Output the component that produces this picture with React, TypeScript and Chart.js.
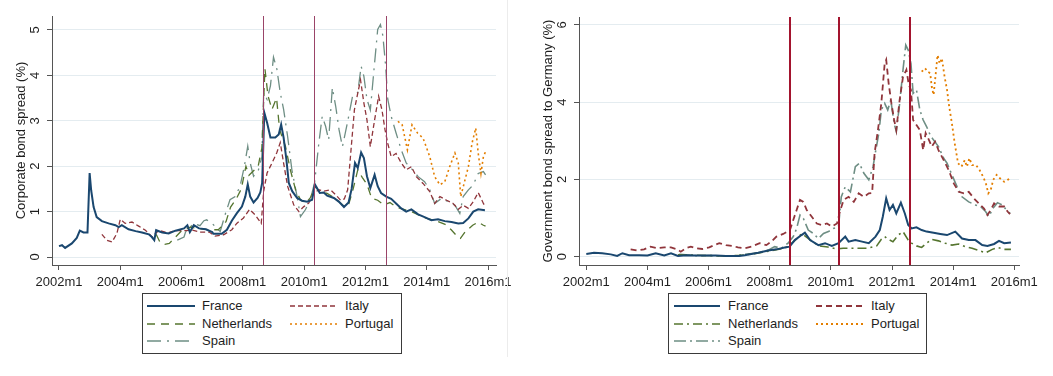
import React, { useEffect, useRef } from 'react';
import { Chart, registerables } from 'chart.js';

Chart.register(...registerables);
Chart.defaults.font.family = '"Liberation Sans", Arial, Helvetica, sans-serif';

type P = [number, number];

// ---------- shared labels ----------
const tickYears = [2002, 2004, 2006, 2008, 2010, 2012, 2014, 2016];
const countries = ['France', 'Italy', 'Netherlands', 'Portugal', 'Spain'];
const corpYTicks = [0, 1, 2, 3, 4, 5];
const govYTicks = [0, 2, 4, 6];
const corpTitle = 'Corporate bond spread (%)';
const govTitle = 'Government bond spread to Germany (%)';
const corpEvents = ['2008m9', '2010m5', '2012m9'];
const govEvents = ['2008m9', '2010m4', '2012m8'];

// ---------- left panel: corporate bond spreads (time in years, value in %) ----------
const corpFrance: P[] = [
  [2002.0, 0.24], [2002.1, 0.26], [2002.2, 0.2], [2002.42, 0.3], [2002.58, 0.42], [2002.68, 0.58], [2002.8, 0.54], [2002.93, 0.54],
  [2003.0, 1.85], [2003.05, 1.47], [2003.13, 1.1], [2003.23, 0.88], [2003.4, 0.79], [2003.62, 0.74], [2003.84, 0.7], [2003.95, 0.66],
  [2004.05, 0.7], [2004.27, 0.61], [2004.5, 0.57], [2004.71, 0.54], [2004.93, 0.5], [2005.03, 0.44], [2005.11, 0.37], [2005.17, 0.59],
  [2005.37, 0.54], [2005.58, 0.52], [2005.8, 0.58], [2006.08, 0.63], [2006.19, 0.7], [2006.27, 0.55], [2006.4, 0.7], [2006.57, 0.63],
  [2006.79, 0.61], [2007.0, 0.55], [2007.04, 0.51], [2007.31, 0.51], [2007.48, 0.6], [2007.64, 0.8], [2007.8, 0.96], [2007.97, 1.11],
  [2008.08, 1.33], [2008.16, 1.6], [2008.24, 1.33], [2008.35, 1.2], [2008.48, 1.3], [2008.57, 1.42], [2008.63, 1.63], [2008.7, 3.18],
  [2008.79, 2.96], [2008.9, 2.63], [2009.06, 2.63], [2009.17, 2.7], [2009.25, 2.92], [2009.33, 2.63], [2009.42, 2.15], [2009.5, 1.63],
  [2009.61, 1.45], [2009.77, 1.3], [2009.93, 1.24], [2010.1, 1.22], [2010.26, 1.26], [2010.35, 1.6], [2010.42, 1.52], [2010.51, 1.41],
  [2010.64, 1.42], [2010.75, 1.35], [2010.97, 1.3], [2011.13, 1.22], [2011.3, 1.1], [2011.45, 1.2], [2011.55, 1.5], [2011.66, 2.07],
  [2011.75, 1.96], [2011.86, 2.3], [2011.95, 2.18], [2012.05, 1.78], [2012.16, 1.52], [2012.3, 1.81], [2012.4, 1.56], [2012.51, 1.41],
  [2012.68, 1.33], [2012.84, 1.28], [2013.0, 1.18], [2013.17, 1.07], [2013.33, 1.0], [2013.5, 1.05], [2013.72, 0.94], [2013.93, 0.88],
  [2014.15, 0.81], [2014.37, 0.83], [2014.59, 0.79], [2014.81, 0.77], [2015.03, 0.74], [2015.19, 0.75], [2015.36, 0.85], [2015.52, 1.0],
  [2015.68, 1.05], [2015.9, 1.03],
];
const corpItaly: P[] = [
  [2003.4, 0.5], [2003.56, 0.37], [2003.73, 0.33], [2003.89, 0.52], [2004.0, 0.83], [2004.16, 0.74], [2004.38, 0.77], [2004.6, 0.68],
  [2004.82, 0.59], [2005.04, 0.44], [2005.26, 0.59], [2005.53, 0.53], [2005.8, 0.58], [2006.08, 0.58], [2006.35, 0.59], [2006.62, 0.55],
  [2006.9, 0.55], [2007.09, 0.46], [2007.37, 0.49], [2007.64, 0.6], [2007.8, 0.74], [2008.02, 0.86], [2008.22, 1.05], [2008.4, 0.93],
  [2008.6, 0.74], [2008.68, 1.45], [2008.79, 1.85], [2008.95, 2.07], [2009.11, 2.3], [2009.22, 2.52], [2009.33, 2.07], [2009.46, 1.56],
  [2009.66, 1.15], [2009.83, 1.0], [2009.99, 1.11], [2010.15, 1.19], [2010.32, 1.41], [2010.48, 1.48], [2010.65, 1.45], [2010.86, 1.48],
  [2011.03, 1.37], [2011.19, 1.25], [2011.31, 1.28], [2011.42, 1.48], [2011.53, 2.36], [2011.64, 3.24], [2011.75, 3.61], [2011.84, 3.9],
  [2011.95, 3.39], [2012.05, 3.02], [2012.16, 2.43], [2012.3, 3.02], [2012.43, 3.54], [2012.54, 3.24], [2012.64, 2.8], [2012.73, 2.5],
  [2012.84, 2.21], [2013.0, 2.28], [2013.17, 2.07], [2013.33, 1.92], [2013.5, 1.99], [2013.66, 1.77], [2013.88, 1.62], [2014.1, 1.44],
  [2014.26, 1.18], [2014.43, 1.33], [2014.65, 1.25], [2014.86, 1.18], [2015.03, 1.05], [2015.19, 1.14], [2015.36, 1.07], [2015.52, 1.22],
  [2015.68, 1.42], [2015.85, 1.18], [2015.92, 1.1],
];
const corpNetherlands: P[] = [
  [2005.17, 0.5], [2005.3, 0.32], [2005.45, 0.28], [2005.6, 0.3], [2005.75, 0.4], [2006.0, 0.58], [2006.3, 0.66], [2006.6, 0.62],
  [2006.9, 0.6], [2007.2, 0.6], [2007.45, 0.78], [2007.6, 1.1], [2007.8, 1.3], [2007.95, 1.5], [2008.1, 2.0], [2008.2, 1.8],
  [2008.35, 1.9], [2008.5, 2.0], [2008.62, 2.4], [2008.72, 4.15], [2008.82, 3.55], [2008.95, 3.25], [2009.1, 3.5], [2009.2, 2.8],
  [2009.39, 2.44], [2009.55, 1.92], [2009.72, 1.48], [2009.88, 1.26], [2010.05, 1.19], [2010.2, 1.3], [2010.35, 1.55], [2010.5, 1.45],
  [2010.75, 1.4], [2011.0, 1.3], [2011.25, 1.15], [2011.45, 1.15], [2011.6, 1.5], [2011.75, 1.92], [2011.9, 1.75], [2012.05, 1.6],
  [2012.2, 1.3], [2012.4, 1.25], [2012.6, 1.15], [2012.8, 1.2], [2013.0, 1.1], [2013.25, 1.05], [2013.5, 1.0], [2013.75, 0.92],
  [2014.0, 0.85], [2014.3, 0.8], [2014.6, 0.72], [2014.8, 0.6], [2015.0, 0.45], [2015.1, 0.41], [2015.25, 0.55], [2015.5, 0.7],
  [2015.68, 0.77], [2015.85, 0.7], [2015.92, 0.68],
];
const corpPortugal: P[] = [
  [2013.06, 2.99], [2013.2, 2.91], [2013.37, 2.36], [2013.52, 2.91], [2013.7, 2.73], [2013.88, 2.62], [2014.1, 2.21], [2014.26, 1.77],
  [2014.43, 1.59], [2014.59, 1.66], [2014.75, 1.99], [2014.92, 2.29], [2015.03, 2.07], [2015.11, 1.33], [2015.22, 1.62], [2015.36, 1.99],
  [2015.48, 2.51], [2015.6, 2.84], [2015.68, 2.29], [2015.77, 1.84], [2015.85, 2.21], [2015.92, 2.32],
];
const corpSpain: P[] = [
  [2005.86, 0.37], [2006.08, 0.44], [2006.13, 0.55], [2006.4, 0.74], [2006.6, 0.69], [2006.73, 0.8], [2006.82, 0.82], [2007.04, 0.71],
  [2007.26, 0.56], [2007.42, 0.93], [2007.58, 1.26], [2007.75, 1.33], [2007.91, 1.56], [2008.05, 2.0], [2008.16, 2.44], [2008.24, 2.07],
  [2008.35, 1.78], [2008.51, 1.92], [2008.62, 2.2], [2008.68, 3.62], [2008.79, 3.47], [2008.9, 3.77], [2009.0, 4.4], [2009.11, 4.14],
  [2009.22, 3.62], [2009.33, 3.25], [2009.46, 2.66], [2009.6, 1.92], [2009.77, 1.33], [2009.88, 0.89], [2010.04, 1.04], [2010.2, 1.26],
  [2010.34, 1.63], [2010.48, 2.51], [2010.59, 3.1], [2010.7, 2.88], [2010.8, 2.58], [2010.92, 3.73], [2011.03, 3.32], [2011.14, 2.8],
  [2011.25, 2.43], [2011.41, 2.95], [2011.58, 3.54], [2011.75, 3.62], [2011.86, 4.2], [2011.95, 3.98], [2012.05, 3.47], [2012.16, 3.24],
  [2012.3, 4.28], [2012.4, 5.01], [2012.49, 5.12], [2012.57, 4.87], [2012.66, 4.2], [2012.73, 3.47], [2012.84, 3.1], [2013.0, 2.73],
  [2013.17, 2.36], [2013.33, 2.07], [2013.5, 1.95], [2013.72, 1.77], [2013.93, 1.66], [2014.1, 1.48], [2014.26, 1.18], [2014.48, 1.29],
  [2014.7, 1.22], [2014.92, 1.14], [2015.08, 0.96], [2015.19, 1.33], [2015.36, 1.48], [2015.52, 1.59], [2015.68, 1.84], [2015.85, 1.88],
  [2015.92, 1.81],
];

// ---------- right panel: government bond spreads to Germany ----------
const govFrance: P[] = [
  [2002.0, 0.07], [2002.25, 0.1], [2002.52, 0.09], [2002.8, 0.06], [2003.01, 0.02], [2003.18, 0.09], [2003.4, 0.04], [2003.73, 0.04],
  [2004.0, 0.03], [2004.27, 0.09], [2004.55, 0.03], [2004.77, 0.09], [2005.0, 0.02], [2005.26, 0.04], [2005.58, 0.03], [2005.91, 0.03],
  [2006.24, 0.03], [2006.57, 0.02], [2007.0, 0.02], [2007.18, 0.04], [2007.62, 0.1], [2007.95, 0.16], [2008.22, 0.19], [2008.49, 0.24],
  [2008.65, 0.26], [2008.82, 0.43], [2009.04, 0.56], [2009.15, 0.62], [2009.32, 0.43], [2009.59, 0.3], [2009.81, 0.35], [2010.03, 0.28],
  [2010.25, 0.35], [2010.47, 0.52], [2010.58, 0.39], [2010.8, 0.43], [2011.02, 0.39], [2011.24, 0.35], [2011.46, 0.52], [2011.6, 0.69],
  [2011.7, 1.04], [2011.81, 1.51], [2011.92, 1.21], [2012.03, 1.34], [2012.14, 1.12], [2012.29, 1.4], [2012.42, 1.12], [2012.53, 0.82],
  [2012.64, 0.73], [2012.8, 0.76], [2012.97, 0.69], [2013.13, 0.65], [2013.36, 0.62], [2013.58, 0.59], [2013.8, 0.56], [2014.07, 0.65],
  [2014.29, 0.47], [2014.51, 0.43], [2014.73, 0.43], [2014.95, 0.3], [2015.12, 0.28], [2015.34, 0.33], [2015.5, 0.41], [2015.67, 0.35],
  [2015.89, 0.37],
];
const govItaly: P[] = [
  [2003.45, 0.19], [2003.67, 0.16], [2003.89, 0.19], [2004.1, 0.26], [2004.32, 0.22], [2004.55, 0.24], [2004.77, 0.24], [2004.98, 0.19],
  [2005.09, 0.13], [2005.26, 0.22], [2005.42, 0.26], [2005.58, 0.22], [2005.8, 0.2], [2006.02, 0.24], [2006.19, 0.3], [2006.35, 0.35],
  [2006.57, 0.3], [2006.79, 0.28], [2006.96, 0.24], [2007.18, 0.22], [2007.4, 0.26], [2007.67, 0.35], [2007.89, 0.3], [2008.05, 0.39],
  [2008.22, 0.52], [2008.44, 0.59], [2008.66, 0.69], [2008.77, 0.95], [2008.88, 1.21], [2008.99, 1.47], [2009.1, 1.42], [2009.21, 1.21],
  [2009.37, 1.04], [2009.54, 0.86], [2009.7, 0.82], [2009.87, 0.86], [2010.03, 0.78], [2010.2, 0.86], [2010.31, 1.21], [2010.42, 1.47],
  [2010.58, 1.55], [2010.75, 1.42], [2010.91, 1.64], [2011.08, 1.55], [2011.24, 1.64], [2011.35, 1.65], [2011.43, 2.68], [2011.54, 3.28],
  [2011.65, 3.97], [2011.76, 5.0], [2011.81, 5.1], [2011.89, 4.49], [2011.98, 3.97], [2012.07, 3.54], [2012.14, 3.28], [2012.25, 4.06],
  [2012.36, 4.66], [2012.47, 4.84], [2012.55, 4.45], [2012.62, 4.32], [2012.69, 3.54], [2012.8, 3.41], [2012.91, 3.28], [2013.02, 2.76],
  [2013.1, 3.2], [2013.21, 3.02], [2013.3, 2.85], [2013.41, 2.98], [2013.52, 2.76], [2013.69, 2.5], [2013.85, 2.25], [2014.02, 1.9],
  [2014.18, 1.68], [2014.35, 1.64], [2014.51, 1.68], [2014.68, 1.51], [2014.84, 1.38], [2015.01, 1.25], [2015.12, 1.08], [2015.23, 1.21],
  [2015.34, 1.38], [2015.5, 1.3], [2015.67, 1.3], [2015.78, 1.17], [2015.86, 1.1],
];
const govNetherlands: P[] = [
  [2005.0, 0.05], [2005.5, 0.04], [2006.0, 0.03], [2006.5, 0.02], [2007.0, 0.03], [2007.5, 0.08], [2008.0, 0.15], [2008.5, 0.22],
  [2008.8, 0.4], [2009.05, 0.6], [2009.3, 0.45], [2009.6, 0.28], [2009.9, 0.25], [2010.2, 0.2], [2010.4, 0.22], [2010.8, 0.22],
  [2011.2, 0.22], [2011.5, 0.28], [2011.65, 0.45], [2011.76, 0.52], [2011.87, 0.45], [2012.03, 0.39], [2012.2, 0.56], [2012.36, 0.65],
  [2012.53, 0.43], [2012.64, 0.35], [2012.8, 0.28], [2012.97, 0.24], [2013.13, 0.35], [2013.3, 0.45], [2013.52, 0.41], [2013.74, 0.35],
  [2013.96, 0.3], [2014.18, 0.33], [2014.4, 0.26], [2014.62, 0.22], [2014.84, 0.16], [2015.06, 0.1], [2015.28, 0.19], [2015.45, 0.24],
  [2015.67, 0.19], [2015.89, 0.19],
];
const govPortugal: P[] = [
  [2012.97, 4.79], [2013.08, 4.88], [2013.17, 4.79], [2013.25, 4.75], [2013.3, 4.4], [2013.36, 4.19], [2013.42, 4.66], [2013.49, 5.22],
  [2013.56, 5.0], [2013.63, 5.14], [2013.72, 4.66], [2013.8, 4.32], [2013.87, 3.89], [2013.96, 3.45], [2014.05, 2.94], [2014.16, 2.42],
  [2014.27, 2.33], [2014.38, 2.5], [2014.45, 2.33], [2014.53, 2.55], [2014.62, 2.37], [2014.75, 2.37], [2014.86, 2.25], [2014.98, 2.07],
  [2015.07, 1.9], [2015.15, 1.64], [2015.23, 1.73], [2015.31, 1.99], [2015.42, 2.12], [2015.53, 2.03], [2015.67, 1.94], [2015.78, 1.99],
  [2015.87, 2.03],
];
const govSpain: P[] = [
  [2005.04, 0.06], [2005.37, 0.04], [2005.7, 0.02], [2006.02, 0.03], [2006.35, 0.02], [2006.79, 0.02], [2007.0, 0.04], [2007.18, 0.06],
  [2007.62, 0.1], [2007.95, 0.17], [2008.16, 0.26], [2008.38, 0.22], [2008.6, 0.35], [2008.77, 0.52], [2008.88, 0.73], [2008.99, 1.08],
  [2009.1, 0.99], [2009.26, 0.69], [2009.43, 0.6], [2009.59, 0.47], [2009.76, 0.6], [2009.92, 0.65], [2010.08, 0.73], [2010.25, 0.78],
  [2010.34, 1.55], [2010.47, 1.81], [2010.64, 1.68], [2010.8, 2.33], [2010.93, 2.42], [2011.08, 2.16], [2011.24, 1.99], [2011.38, 2.33],
  [2011.47, 2.76], [2011.57, 3.2], [2011.65, 3.8], [2011.76, 3.97], [2011.86, 3.8], [2011.96, 4.06], [2012.07, 3.45], [2012.14, 3.24],
  [2012.25, 3.97], [2012.36, 4.84], [2012.45, 5.48], [2012.53, 5.35], [2012.62, 5.0], [2012.69, 4.23], [2012.8, 4.32], [2012.91, 3.8],
  [2013.02, 3.54], [2013.13, 3.37], [2013.25, 3.15], [2013.36, 3.02], [2013.52, 2.85], [2013.69, 2.55], [2013.8, 2.42], [2013.96, 2.12],
  [2014.13, 1.81], [2014.29, 1.55], [2014.51, 1.42], [2014.73, 1.34], [2014.9, 1.3], [2015.06, 1.17], [2015.17, 1.04], [2015.3, 1.25],
  [2015.45, 1.4], [2015.61, 1.34], [2015.78, 1.17], [2015.87, 1.12],
];

// ---------- styles ----------
const FONT = '"Liberation Sans", Arial, Helvetica, sans-serif';
const colors = ['#1a476f', '#90353b', '#55752f', '#e37e00', '#6e8e84'];
const corpDash: number[][] = [[], [5, 3], [8, 6], [2, 3], [14, 6, 2, 6]];
const govDash: number[][] = [[], [6, 4], [9, 4, 2, 4], [2, 3], [12, 4, 2, 4]];
const corpWidths = [2, 1.3, 1.3, 1.6, 1.3];
const govWidths = [2, 1.8, 1.6, 1.8, 1.6];

const m2t = (s: string) => {
  const [y, m] = s.split('m').map(Number);
  return y + (m - 1) / 12;
};

type PanelCfg = {
  series: P[][];
  dashes: number[][];
  widths: number[];
  yTicks: number[];
  yMin: number;
  yMax: number;
  xMin: number;
  xMax: number;
  padTop: number;
  padRight: number;
  yWidth: number;
  title: string;
  events: string[];
  eventColor: string;
  eventWidth: number;
  width: number;
  height: number;
};

function Panel({ cfg }: { cfg: PanelCfg }) {
  const ref = useRef<HTMLCanvasElement | null>(null);
  useEffect(() => {
    if (!ref.current) return;
    const eventPlugin = {
      id: 'eventLines',
      afterDatasetsDraw(chart: any) {
        const { ctx, chartArea, scales } = chart;
        ctx.save();
        ctx.strokeStyle = cfg.eventColor;
        ctx.lineWidth = cfg.eventWidth;
        for (const e of cfg.events) {
          const x = Math.round(scales.x.getPixelForValue(m2t(e))) + (cfg.eventWidth % 2 ? 0.5 : 0);
          ctx.beginPath();
          ctx.moveTo(x, chartArea.top);
          ctx.lineTo(x, chartArea.bottom);
          ctx.stroke();
        }
        ctx.restore();
      },
    };
    const chart = new Chart(ref.current, {
      type: 'line',
      data: {
        datasets: cfg.series.map((s, i) => ({
          label: countries[i],
          data: s.map(([x, y]) => ({ x, y })),
          borderColor: colors[i],
          backgroundColor: colors[i],
          borderWidth: cfg.widths[i],
          borderDash: cfg.dashes[i],
          pointRadius: 0,
          fill: false,
          tension: 0,
        })),
      },
      options: {
        animation: false,
        responsive: false,
        maintainAspectRatio: false,
        layout: { padding: { top: cfg.padTop, right: cfg.padRight, left: 0, bottom: 0 } },
        plugins: { legend: { display: false }, tooltip: { enabled: false } },
        scales: {
          x: {
            type: 'linear',
            min: cfg.xMin,
            max: cfg.xMax,
            afterBuildTicks: (s: any) => {
              s.ticks = tickYears.map((v) => ({ value: v }));
            },
            afterFit: (s: any) => {
              s.height = 27;
            },
            ticks: {
              autoSkip: false,
              maxRotation: 0,
              minRotation: 0,
              padding: 5,
              color: '#1e1e1e',
              font: { size: 13, family: FONT },
              callback: (v: any) => `${v}m1`,
            },
            grid: { drawOnChartArea: false, drawTicks: true, tickLength: 5, tickColor: '#555' },
            border: { display: true, color: '#555', width: 1 },
          },
          y: {
            type: 'linear',
            min: cfg.yMin,
            max: cfg.yMax,
            afterBuildTicks: (s: any) => {
              s.ticks = cfg.yTicks.map((v) => ({ value: v }));
            },
            afterFit: (s: any) => {
              s.width = cfg.yWidth;
            },
            ticks: {
              minRotation: 90,
              maxRotation: 90,
              crossAlign: 'center',
              padding: 8,
              color: '#1e1e1e',
              font: { size: 13, family: FONT },
            },
            grid: { color: '#e4ecf0', lineWidth: 1, drawTicks: true, tickLength: 5, tickColor: '#555' },
            border: { display: true, color: '#555', width: 1 },
            title: {
              display: true,
              text: cfg.title,
              color: '#1e1e1e',
              font: { size: 13, family: FONT },
              padding: { top: 14, bottom: 0 },
            },
          },
        },
      } as any,
      plugins: [eventPlugin],
    });
    return () => chart.destroy();
  }, [cfg]);
  return <canvas ref={ref} width={cfg.width} height={cfg.height} style={{ width: cfg.width, height: cfg.height, display: 'block' }} />;
}

type LegendCfg = {
  left: number;
  width: number;
  col1: [number, number, number];
  col2: [number, number, number];
  dashes: number[][];
  widths: number[];
};

function Legend({ cfg }: { cfg: LegendCfg }) {
  const rows = [306, 323.5, 341];
  const items = countries.map((name, i) => {
    const col = i % 2 === 0 ? cfg.col1 : cfg.col2;
    const row = rows[Math.floor(i / 2)];
    return { name, i, x1: col[0], x2: col[1], tx: col[2], y: row };
  });
  return (
    <>
      <div
        style={{
          position: 'absolute',
          left: cfg.left,
          top: 293,
          width: cfg.width,
          height: 61,
          border: '1px solid #3a3a3a',
          boxSizing: 'border-box',
        }}
      />
      {items.map((it) => (
        <React.Fragment key={it.name}>
          <svg
            style={{ position: 'absolute', left: it.x1, top: it.y - 3, overflow: 'visible' }}
            width={it.x2 - it.x1}
            height={6}
          >
            <line
              x1={0}
              y1={3}
              x2={it.x2 - it.x1}
              y2={3}
              stroke={colors[it.i]}
              strokeWidth={cfg.widths[it.i]}
              strokeDasharray={cfg.dashes[it.i].length ? cfg.dashes[it.i].join(' ') : undefined}
            />
          </svg>
          <div
            style={{
              position: 'absolute',
              left: it.tx,
              top: it.y - 8,
              height: 16,
              lineHeight: '16px',
              fontSize: 13,
              color: '#1e1e1e',
              whiteSpace: 'nowrap',
            }}
          >
            {it.name}
          </div>
        </React.Fragment>
      ))}
    </>
  );
}

const corpCfg: PanelCfg = {
  series: [corpFrance, corpItaly, corpNetherlands, corpPortugal, corpSpain],
  dashes: corpDash,
  widths: corpWidths,
  yTicks: corpYTicks,
  yMin: -0.176,
  yMax: 5.308,
  xMin: 2001.772,
  xMax: 2016.261,
  padTop: 16,
  padRight: 31,
  yWidth: 52,
  title: corpTitle,
  events: corpEvents,
  eventColor: '#9a4468',
  eventWidth: 1,
  width: 527,
  height: 292,
};

const govCfg: PanelCfg = {
  series: [govFrance, govItaly, govNetherlands, govPortugal, govSpain],
  dashes: govDash,
  widths: govWidths,
  yTicks: govYTicks,
  yMin: -0.215,
  yMax: 6.207,
  xMin: 2001.761,
  xMax: 2016.154,
  padTop: 17,
  padRight: 34,
  yWidth: 52,
  title: govTitle,
  events: govEvents,
  eventColor: '#a3142e',
  eventWidth: 2,
  width: 526,
  height: 292,
};

const corpLegend: LegendCfg = {
  left: 142,
  width: 260,
  col1: [147, 195, 202],
  col2: [290, 338, 345],
  dashes: corpDash,
  widths: corpWidths,
};
const govLegend: LegendCfg = {
  left: 668,
  width: 259,
  col1: [674, 720, 728],
  col2: [816, 864, 871],
  dashes: govDash,
  widths: govWidths,
};

export default function App() {
  return (
    <div
      style={{
        position: 'absolute',
        left: 0,
        top: 0,
        width: 1053,
        height: 376,
        background: '#fff',
        fontFamily: FONT,
        overflow: 'hidden',
      }}
    >
      <div style={{ position: 'absolute', left: 0, top: 0 }}>
        <Panel cfg={corpCfg} />
      </div>
      <div style={{ position: 'absolute', left: 527, top: 0 }}>
        <Panel cfg={govCfg} />
      </div>
      <div style={{ position: 'absolute', left: 507, top: 0, width: 1, height: 357, background: '#ececec' }} />
      <Legend cfg={corpLegend} />
      <Legend cfg={govLegend} />
    </div>
  );
}
